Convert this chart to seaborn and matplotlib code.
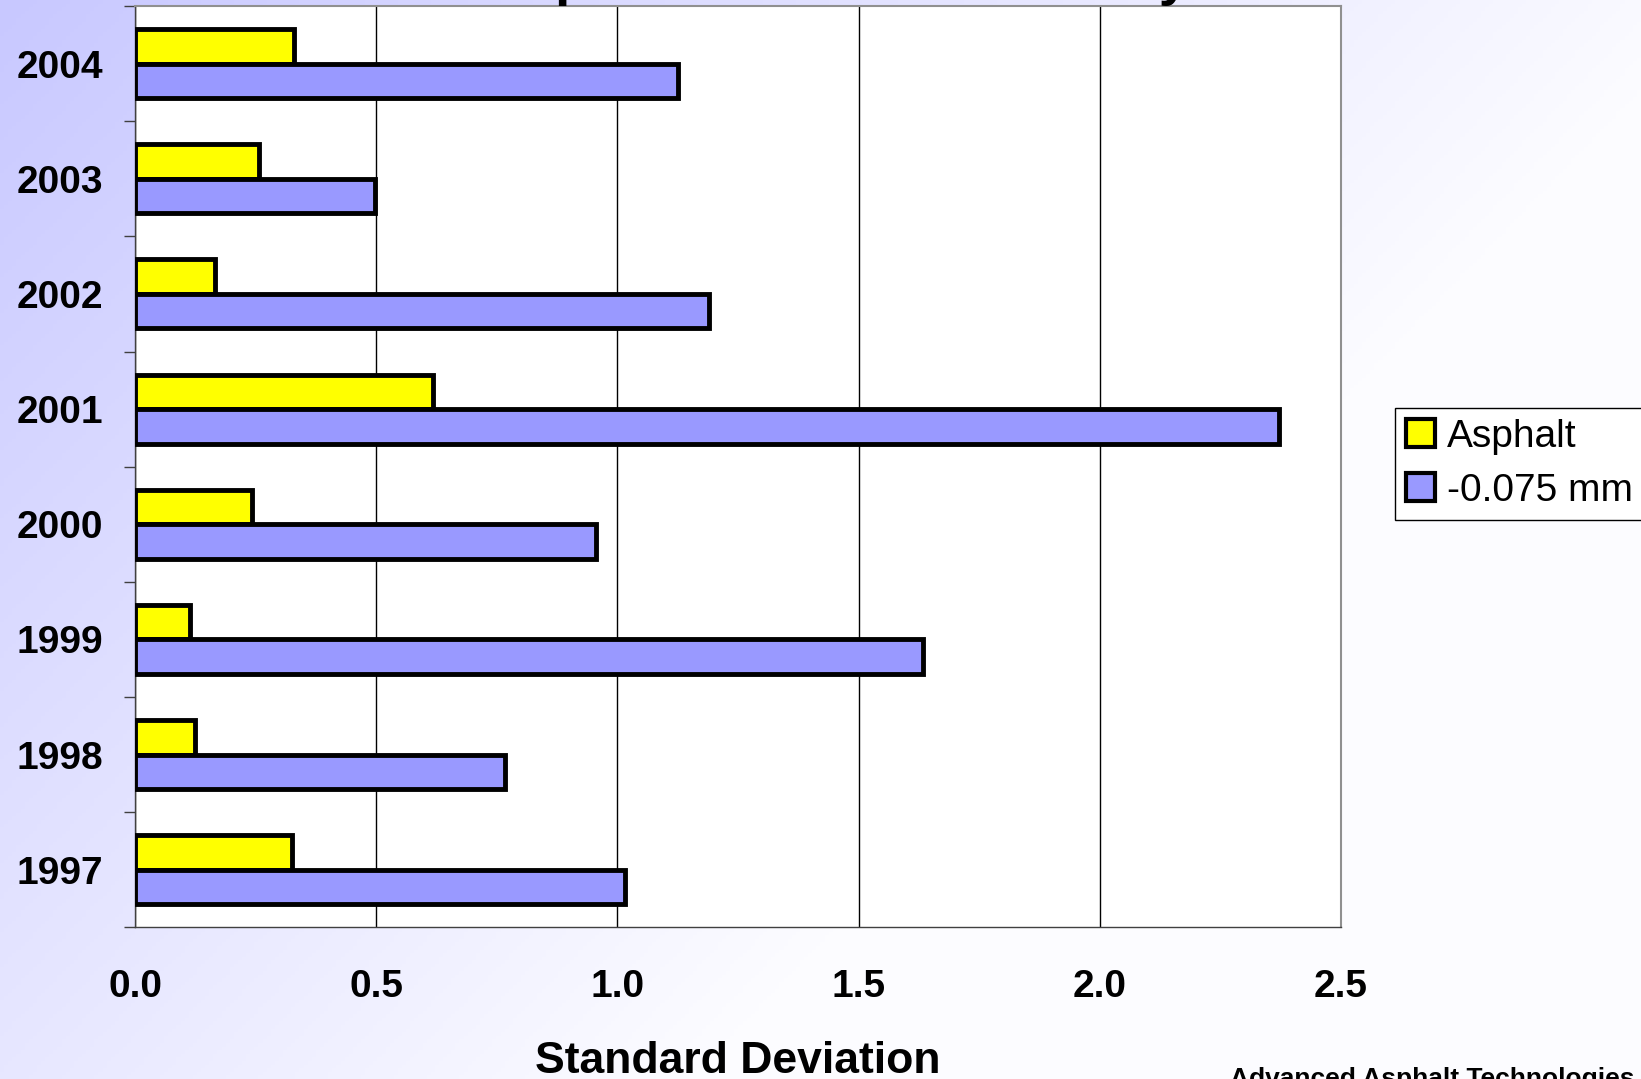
import numpy as np
import pandas as pd
import matplotlib.pyplot as plt
import seaborn as sns

# dati
anni = ['2004', '2003', '2002', '2001', '2000', '1999', '1998', '1997']
serie = ['Asphalt', '-0.075 mm']
asphalt = [0.33, 0.256, 0.165, 0.618, 0.243, 0.113, 0.124, 0.326]
passante_0075 = [1.126, 0.497, 1.19, 2.372, 0.955, 1.634, 0.766, 1.016]
colori = ['#FFFF00', '#9999FF']

df = pd.DataFrame({
    'Anno': anni * 2,
    'Serie': [serie[0]] * len(anni) + [serie[1]] * len(anni),
    'Valore': asphalt + passante_0075,
})

sns.set_style('white')
plt.rcParams['font.family'] = ['Liberation Sans', 'DejaVu Sans']
plt.rcParams['text.color'] = 'black'
plt.rcParams['axes.labelcolor'] = 'black'
plt.rcParams['xtick.color'] = 'black'
plt.rcParams['ytick.color'] = 'black'

fig = plt.figure(figsize=(16.41, 10.79), dpi=100)

# sfondo sfumato (lavanda in alto a sinistra, quasi bianco a destra)
bg = fig.add_axes([0, 0, 1, 1], zorder=-10)
xx, yy = np.meshgrid(np.linspace(0, 1, 400), np.linspace(0, 1, 300))
t = np.clip(0.95 * xx + 0.6 * yy, 0, 1)
c0 = np.array([200, 200, 255]) / 255
c1 = np.array([252, 252, 255]) / 255
img = c0[None, None, :] + (c1 - c0)[None, None, :] * t[..., None]
bg.imshow(img, aspect='auto', extent=[0, 1, 0, 1], origin='upper')
bg.axis('off')

ax = fig.add_axes([0.0823, 0.1406, 0.7349, 0.8538])
ax.set_facecolor('white')

sns.barplot(data=df, x='Valore', y='Anno', hue='Serie', order=anni, hue_order=serie,
            palette=colori, orient='h', width=0.6, saturation=1,
            edgecolor='black', linewidth=3.5, ax=ax, zorder=3)

ax.set_xlim(0, 2.5)
ax.set_ylim(7.5, -0.5)
ax.set_xticks(np.arange(0, 2.51, 0.5))
ax.set_xticklabels([f'{v:.1f}' for v in np.arange(0, 2.51, 0.5)])
ax.set_yticks(np.arange(-0.5, 8, 1), minor=True)
ax.xaxis.grid(True, color='black', linewidth=1)
ax.set_axisbelow(True)

ax.tick_params(axis='x', which='major', direction='out', length=9, width=1, color='#404040',
               labelsize=28, pad=21)
ax.tick_params(axis='y', which='major', length=0, labelsize=28, pad=23)
ax.tick_params(axis='y', which='minor', direction='out', length=8, width=1, color='#404040', left=True)
for lab in ax.get_xticklabels() + ax.get_yticklabels():
    lab.set_fontweight('bold')

for lato in ['top', 'right']:
    ax.spines[lato].set_color('#909090')
    ax.spines[lato].set_linewidth(1.5)
for lato in ['left', 'bottom']:
    ax.spines[lato].set_color('#404040')
    ax.spines[lato].set_linewidth(1)

ax.set_ylabel('')
ax.set_xlabel('Standard Deviation', fontsize=32, fontweight='bold', labelpad=26)

# legenda a destra
leg = ax.legend(loc='upper left', bbox_to_anchor=(0.850, 0.622), bbox_transform=fig.transFigure,
                borderaxespad=0, fontsize=28, frameon=True, fancybox=False, edgecolor='black',
                framealpha=1, handlelength=0.75, handleheight=0.75, handletextpad=0.3,
                labelspacing=0.46, borderpad=0.28)
leg.get_frame().set_linewidth(1)
for h in leg.legend_handles:
    h.set_linewidth(3)

# titolo tagliato in alto (si vedono solo le code delle lettere)
fig.text(0.51, 1.0056, 'Asphalt Content Variability', ha='center', va='baseline',
         fontsize=40, fontweight='bold')

fig.text(0.7495, 0.011, 'Advanced Asphalt Technologies', ha='left', va='top',
         fontsize=19, fontweight='bold')

fig.savefig('out.png', dpi=100)
